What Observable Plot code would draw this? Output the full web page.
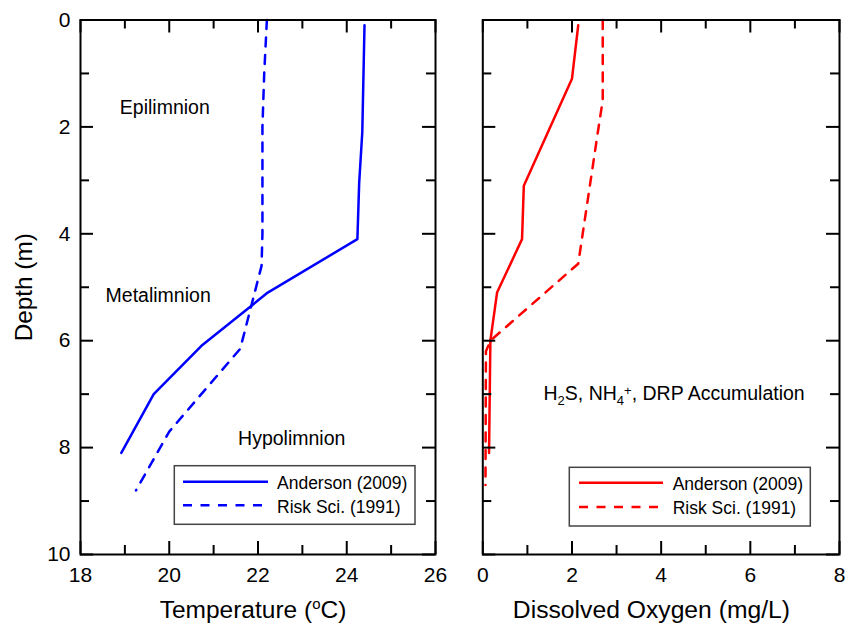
<!DOCTYPE html>
<html>
<head>
<meta charset="utf-8">
<script src="https://cdn.jsdelivr.net/npm/d3@7"></script>
<script src="https://cdn.jsdelivr.net/npm/@observablehq/plot@0.6"></script>
<style>
  html, body { margin: 0; padding: 0; background: #fff; }
  #wrap { position: relative; width: 846px; height: 624px; font-family: "Liberation Sans", Arial, sans-serif; }
  #left, #right { position: absolute; top: 0; }
  #left { left: 0; }
  #right { left: 450px; }
  #overlay { position: absolute; left: 0; top: 0; pointer-events: none; }
</style>
</head>
<body>
<div id="wrap">
  <div id="left"></div>
  <div id="right"></div>
  <svg id="overlay" width="846" height="624"></svg>
</div>
<script>
// ---------- data ----------
const depthTempAnderson = [0.1, 2.1, 3.05, 4.1, 5.1, 6.1, 7.0, 8.1];
const tempAnderson      = [24.4, 24.35, 24.28, 24.24, 22.22, 20.72, 19.65, 18.92];
const depthTempRisk     = [0, 1, 2, 3, 4, 4.6, 6.15, 7.7, 8.8];
const tempRisk          = [22.2, 22.14, 22.1, 22.1, 22.1, 22.08, 21.6, 20.0, 19.25];

const depthDOAnderson = [0.1, 1.1, 3.1, 4.1, 5.1, 6.0, 8.1];
const doAnderson      = [2.14, 2.0, 0.92, 0.88, 0.32, 0.17, 0.14];
const depthDORisk     = [0, 1.5, 2.1, 4.56, 6.0, 6.2, 8.7];
const doRisk          = [2.69, 2.69, 2.58, 2.14, 0.17, 0.07, 0.06];

const xMajorT  = [18, 20, 22, 24, 26];
const xMinorT  = [19, 21, 23, 25];
const xMajorDO = [0, 2, 4, 6, 8];
const xMinorDO = [1, 3, 5, 7];
const yMajor   = [0, 2, 4, 6, 8, 10];
const yMinor   = [1, 3, 5, 7, 9];

const seriesNames = ["Anderson (2009)", "Risk Sci. (1991)"];
const annoTemp = [
  {x: 19.9, y: 1.65, label: "Epilimnion"},
  {x: 19.75, y: 5.15, label: "Metalimnion"},
  {x: 22.76, y: 7.83, label: "Hypolimnion"}
];
const annoDO = [
  {x: 4.29, y: 7.0, label: "H2S, NH4+, DRP Accumulation"}
];
const xTitleT = "Temperature (oC)";
const xTitleDO = "Dissolved Oxygen (mg/L)";
const yTitle = "Depth (m)";

// ---------- helpers ----------
const H = 624, MT = 19.5, MB = 70;
const FH = H - MT - MB;
const FONT = "'Liberation Sans', Arial, sans-serif";

function zip(xs, ys) { return xs.map((v, i) => ({v, d: ys[i]})); }

function frameTicks(xMaj, xMin, fw) {
  const s = {stroke: "#000", strokeWidth: 2};
  return [
    Plot.tickX(xMaj, {x: d => d, insetTop: FH - 13, ...s}),
    Plot.tickX(xMaj, {x: d => d, insetBottom: FH - 13, ...s}),
    Plot.tickX(xMin, {x: d => d, insetTop: FH - 9, ...s}),
    Plot.tickX(xMin, {x: d => d, insetBottom: FH - 9, ...s}),
    Plot.tickY(yMajor, {y: d => d, insetRight: fw - 13, ...s}),
    Plot.tickY(yMajor, {y: d => d, insetLeft: fw - 13, ...s}),
    Plot.tickY(yMinor, {y: d => d, insetRight: fw - 9, ...s}),
    Plot.tickY(yMinor, {y: d => d, insetLeft: fw - 9, ...s}),
    Plot.frame({stroke: "#000", strokeWidth: 2})
  ];
}

function richify(svg) {
  d3.select(svg).selectAll("text").each(function () {
    const t = this.textContent;
    const sel = d3.select(this);
    if (t === xTitleT) {
      sel.text(null);
      sel.append("tspan").text("Temperature (");
      sel.append("tspan").attr("font-size", 15).attr("dy", -9).text("o");
      sel.append("tspan").attr("dy", 9).text("C)");
    } else if (t === annoDO[0].label) {
      sel.text(null);
      sel.append("tspan").text("H");
      sel.append("tspan").attr("font-size", 13).attr("dy", 5).text("2");
      sel.append("tspan").attr("dy", -5).text("S, NH");
      sel.append("tspan").attr("font-size", 13).attr("dy", 5).text("4");
      sel.append("tspan").attr("font-size", 13).attr("dy", -10).text("+");
      sel.append("tspan").attr("dy", 5).text(", DRP Accumulation");
    }
  });
}

// ---------- left panel ----------
const WL = 450, MLL = 80, MRL = 15;
const left = Plot.plot({
  width: WL, height: H,
  marginLeft: MLL, marginRight: MRL, marginTop: MT, marginBottom: MB,
  style: {fontFamily: FONT, color: "#000", background: "transparent", overflow: "visible"},
  x: {domain: [18, 26], axis: null},
  y: {domain: [0, 10], reverse: true, axis: null},
  marks: [
    Plot.line(zip(tempAnderson, depthTempAnderson), {x: "v", y: "d", stroke: "#0000ff", strokeWidth: 2.5}),
    Plot.line(zip(tempRisk, depthTempRisk), {x: "v", y: "d", stroke: "#0000ff", strokeWidth: 2.5, strokeDasharray: "9,8.5"}),
    ...frameTicks(xMajorT, xMinorT, WL - MLL - MRL),
    Plot.axisX(xMajorT, {anchor: "bottom", tickSize: 0, tickPadding: 13, fontSize: 21, label: null, tickFormat: d => String(d)}),
    Plot.axisY(yMajor, {anchor: "left", tickSize: 0, tickPadding: 10, fontSize: 21, label: null, tickFormat: d => String(d)}),
    Plot.text(annoTemp, {x: "x", y: "y", text: "label", fontSize: 19.5}),
    Plot.text([xTitleT], {frameAnchor: "bottom", dy: 56, dx: -5, fontSize: 24.5, lineAnchor: "middle", textAnchor: "middle"}),
    Plot.text([yTitle], {frameAnchor: "left", rotate: -90, dx: -56.5, fontSize: 24.3, lineAnchor: "middle", textAnchor: "middle"})
  ]
});
document.getElementById("left").appendChild(left);
richify(left);

// ---------- right panel ----------
const WR = 396, MLR = 32.3, MRR = 7;
const right = Plot.plot({
  width: WR, height: H,
  marginLeft: MLR, marginRight: MRR, marginTop: MT, marginBottom: MB,
  style: {fontFamily: FONT, color: "#000", background: "transparent", overflow: "visible"},
  x: {domain: [0, 8], axis: null},
  y: {domain: [0, 10], reverse: true, axis: null},
  marks: [
    Plot.line(zip(doAnderson, depthDOAnderson), {x: "v", y: "d", stroke: "#ff0000", strokeWidth: 2.5}),
    Plot.line(zip(doRisk, depthDORisk), {x: "v", y: "d", stroke: "#ff0000", strokeWidth: 2.5, strokeDasharray: "9,8.5"}),
    ...frameTicks(xMajorDO, xMinorDO, WR - MLR - MRR),
    Plot.axisX(xMajorDO, {anchor: "bottom", tickSize: 0, tickPadding: 13, fontSize: 21, label: null, tickFormat: d => String(d)}),
    Plot.text(annoDO, {x: "x", y: "y", text: "label", fontSize: 19.5}),
    Plot.text([xTitleDO], {frameAnchor: "bottom", dy: 56, dx: -9.7, fontSize: 24.7, lineAnchor: "middle", textAnchor: "middle"})
  ]
});
document.getElementById("right").appendChild(right);
richify(right);

// ---------- legends (overlay) ----------
const ov = d3.select("#overlay").style("font-family", FONT);
function legend(box, lineX, lineY, textX, textY, color) {
  const g = ov.append("g");
  g.append("rect").attr("x", box[0]).attr("y", box[1]).attr("width", box[2]).attr("height", box[3])
    .attr("fill", "#fff").attr("stroke", "#444").attr("stroke-width", 1.5);
  seriesNames.forEach((name, i) => {
    g.append("line").attr("x1", lineX[0]).attr("x2", lineX[1]).attr("y1", lineY[i]).attr("y2", lineY[i])
      .attr("stroke", color).attr("stroke-width", 2.5)
      .attr("stroke-dasharray", i === 1 ? "9,8.5" : null);
    g.append("text").attr("x", textX).attr("y", textY[i]).attr("font-size", 17.5).attr("fill", "#000").text(name);
  });
}
legend([174.3, 465.7, 240.7, 58.6], [183, 268], [481.7, 505.3], 277, [489.3, 513.3], "#0000ff");
legend([569.3, 467.3, 241, 58.7], [579, 663], [482.7, 507], 672.7, [490, 513.5], "#ff0000");
</script>
</body>
</html>
